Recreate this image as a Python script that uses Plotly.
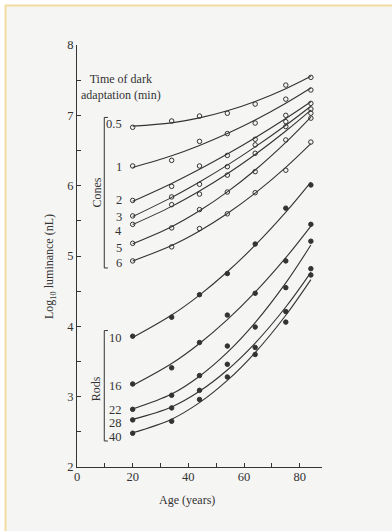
import numpy as np
import plotly.graph_objects as go

# Ages of the test groups (years)
ages = [20, 34, 44, 54, 64, 75, 84]

# Cone thresholds, log10 luminance (nL), by minutes of dark adaptation
cone_05 = [6.83, 6.92, 6.99, 7.03, 7.16, 7.43, 7.54]
cone_1 = [6.28, 6.36, 6.63, 6.74, 6.89, 7.23, 7.36]
cone_2 = [5.79, 5.99, 6.28, 6.43, 6.66, 7.00, 7.17]
cone_3 = [5.57, 5.84, 6.02, 6.27, 6.58, 6.91, 7.09]
cone_4 = [5.45, 5.73, 5.88, 6.15, 6.46, 6.84, 7.03]
cone_5 = [5.18, 5.40, 5.66, 5.91, 6.20, 6.65, 6.96]
cone_6 = [4.93, 5.13, 5.39, 5.60, 5.90, 6.22, 6.62]

# Rod thresholds
rod_10 = [3.86, 4.13, 4.45, 4.75, 5.17, 5.68, 6.01]
rod_16 = [3.18, 3.41, 3.77, 4.16, 4.47, 4.93, 5.45]
rod_22 = [2.82, 3.02, 3.30, 3.72, 3.99, 4.55, 5.21]
rod_28 = [2.67, 2.84, 3.09, 3.46, 3.70, 4.21, 4.82]
rod_40 = [2.48, 2.65, 2.96, 3.28, 3.60, 4.06, 4.73]

cone_labels = ["0.5", "1", "2", "3", "4", "5", "6"]
cone_label_y = [6.88, 6.27, 5.80, 5.56, 5.35, 5.12, 4.90]
rod_labels = ["10", "16", "22", "28", "40"]
rod_label_y = [3.83, 3.15, 2.81, 2.63, 2.43]

cones = [cone_05, cone_1, cone_2, cone_3, cone_4, cone_5, cone_6]
rods = [rod_10, rod_16, rod_22, rod_28, rod_40]

INK = "#333333"
FONT = "Liberation Serif"

# Plot-area geometry in pixels (392 x 531 page)
W, H = 392, 531
ML, MR, MT, MB = 77, 70, 45, 64
PW, PH = W - ML - MR, H - MT - MB


def px(x):
    return (x - ML) / PW


def py(y):
    return (H - MB - y) / PH


fig = go.Figure()


def add_series(vals, filled):
    a = np.array(ages, dtype=float)
    v = np.array(vals, dtype=float)
    coef = np.polyfit(a, v, 2)
    fit = np.polyval(coef, a)
    fig.add_trace(go.Scatter(
        x=ages, y=fit, mode="lines", line=dict(color=INK, width=1.1, shape="spline"),
        showlegend=False, hoverinfo="skip"))
    fig.add_trace(go.Scatter(
        x=ages, y=vals, mode="markers", showlegend=False,
        marker=dict(size=4.5, symbol="circle" if filled else "circle-open",
                    color=INK, line=dict(color=INK, width=1))))


for s in cones:
    add_series(s, False)
for s in rods:
    add_series(s, True)

annotations = []
for lab, y in zip(cone_labels + rod_labels, cone_label_y + rod_label_y):
    annotations.append(dict(x=17, y=y, xref="x", yref="y", text=lab, showarrow=False,
                            xanchor="right", yanchor="middle", font=dict(family=FONT, size=12.5, color=INK)))

annotations += [
    dict(x=15.8, y=7.40, xref="x", yref="y", text="Time of dark<br>adaptation (min)", showarrow=False,
         xanchor="center", yanchor="middle", font=dict(family=FONT, size=12, color=INK)),
    dict(x=7.1, y=5.90, xref="x", yref="y", text="Cones", textangle=-90, showarrow=False,
         xanchor="center", yanchor="middle", font=dict(family=FONT, size=12, color=INK)),
    dict(x=6.8, y=3.12, xref="x", yref="y", text="Rods", textangle=-90, showarrow=False,
         xanchor="center", yanchor="middle", font=dict(family=FONT, size=12, color=INK)),
    dict(x=px(187), y=py(500), xref="paper", yref="paper", text="Age (years)", showarrow=False,
         xanchor="center", yanchor="middle", font=dict(family=FONT, size=12, color=INK)),
    dict(x=px(50), y=py(267), xref="paper", yref="paper", text="Log<sub>10</sub> luminance (nL)",
         textangle=-90, showarrow=False, xanchor="center", yanchor="middle",
         font=dict(family=FONT, size=12, color=INK)),
]

shapes = [
    # page background with its pale yellow edge
    dict(type="rect", xref="paper", yref="paper", x0=px(5.5), x1=px(400), y0=py(540), y1=py(5.5),
         fillcolor="#f5f5f4", line=dict(color="#f2dc9e", width=2), layer="below"),
]
# brackets grouping the cone and rod curves
for top, bot in [(6.97, 4.83), (3.94, 2.37)]:
    shapes.append(dict(type="path", xref="x", yref="y",
                       path=f"M 11.1 {top} L 9.8 {top} L 9.8 {bot} L 11.1 {bot}",
                       line=dict(color=INK, width=1)))

fig.update_layout(
    width=W, height=H,
    margin=dict(l=ML, r=MR, t=MT, b=MB),
    paper_bgcolor="white", plot_bgcolor="rgba(0,0,0,0)",
    font=dict(family=FONT, size=12, color=INK),
    annotations=annotations, shapes=shapes,
    xaxis=dict(range=[0, 88], showgrid=False, zeroline=False, showline=True, linecolor=INK, linewidth=1.2,
               ticks="inside", ticklen=4, tickcolor=INK, tickwidth=1, ticklabelstandoff=-2,
               tickfont=dict(size=12.5),
               tickvals=[0, 10, 20, 30, 40, 50, 60, 70, 80],
               ticktext=["0", "", "20", "", "40", "", "60", "", "80"]),
    yaxis=dict(range=[2, 8], showgrid=False, zeroline=False, showline=True, linecolor=INK, linewidth=1.2,
               ticks="inside", ticklen=4, tickcolor=INK, tickwidth=1, tickfont=dict(size=12.5),
               tickvals=[2, 2.5, 3, 3.5, 4, 4.5, 5, 5.5, 6, 6.5, 7, 7.5, 8],
               ticktext=["2", "", "3", "", "4", "", "5", "", "6", "", "7", "", "8"]),
)

fig.write_html("out.html")
